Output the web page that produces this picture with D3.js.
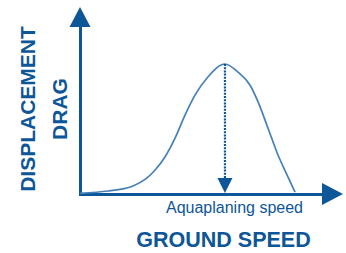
<!DOCTYPE html>
<html><head><meta charset="utf-8">
<script src="https://cdn.jsdelivr.net/npm/d3@7"></script>
<style>body{margin:0;background:#fff}svg{display:block}</style>
</head><body>
<script>
const speed = [0, 11.7, 16.7, 22.1, 27.1, 31.3, 35.4, 39.6, 43.8, 47.9, 53.3, 60.4, 65.8, 70.8, 74.2, 78.3, 82.5, 86.3, 89.6];
const drag  = [0.5, 2.3, 3.5, 6.2, 11.2, 18.5, 28.5, 43, 60.8, 76, 90, 100, 93.8, 83.8, 70.8, 50.8, 30, 14.6, 1.5];
const peakSpeed = 60.4;
const yTitle = ["DISPLACEMENT", "DRAG"];
const xTitle = "GROUND SPEED";
const markerLabel = "Aquaplaning speed";

const W = 346, H = 253, C = "#0d5697", CL = "#4580b8";
const svg = d3.select("body").append("svg").attr("width", W).attr("height", H);
const x = d3.scaleLinear().domain([0, 100]).range([80, 320]);
const y = d3.scaleLinear().domain([0, 100]).range([194, 64]);

// axes (no ticks) via d3 axis generators
const xAxisG = svg.append("g").attr("transform", `translate(0,${y(0)})`)
  .call(d3.axisBottom(d3.scaleLinear().domain([0, 1]).range([x(0) - 1.5, 325])).tickValues([]).tickSizeOuter(0));
const yAxisG = svg.append("g").attr("transform", `translate(${x(0)},0)`)
  .call(d3.axisLeft(d3.scaleLinear().domain([0, 1]).range([y(0) + 1.5, 24])).tickValues([]).tickSizeOuter(0));
[xAxisG, yAxisG].forEach(g => g.select(".domain").attr("stroke", C).attr("stroke-width", 3));

// arrowheads
svg.append("path").attr("fill", C)
  .attr("d", `M${x(0) - 10.5},${27} L${x(0)},${7} L${x(0) + 10.5},${27} Z`);
svg.append("path").attr("fill", C)
  .attr("d", `M322,${y(0) - 11} L343,${y(0)} L322,${y(0) + 11} Z`);

// curve
const pts = speed.map((s, i) => [s, drag[i]]);
svg.append("path").datum(pts)
  .attr("fill", "none").attr("stroke", CL).attr("stroke-width", 1.7)
  .attr("d", d3.line().x(d => x(d[0])).y(d => y(d[1])).curve(d3.curveMonotoneX));

// dotted marker line
const px = x(peakSpeed);
svg.append("line").attr("x1", px).attr("x2", px).attr("y1", y(100)).attr("y2", y(0) - 16)
  .attr("stroke", C).attr("stroke-width", 2.2).attr("stroke-dasharray", "2,1.2");
svg.append("path").attr("fill", C)
  .attr("d", `M${px - 7.5},${y(0) - 16} L${px + 7.5},${y(0) - 16} L${px},${y(0) - 1} Z`);

// labels
const font = "'Liberation Sans', Arial, sans-serif";
svg.append("text").attr("x", 234.5).attr("y", 213).attr("text-anchor", "middle")
  .attr("font-family", font).attr("font-size", 16).attr("fill", C).text(markerLabel);
svg.append("text").attr("x", 223.5).attr("y", 247).attr("text-anchor", "middle")
  .attr("font-family", font).attr("font-weight", "bold").attr("font-size", 21.5).attr("fill", C).text(xTitle);
svg.append("text").attr("transform", "translate(35,109) rotate(-90)").attr("text-anchor", "middle")
  .attr("font-family", font).attr("font-weight", "bold").attr("font-size", 21).attr("fill", C).text(yTitle[0]);
svg.append("text").attr("transform", "translate(67,109) rotate(-90)").attr("text-anchor", "middle")
  .attr("font-family", font).attr("font-weight", "bold").attr("font-size", 21).attr("fill", C).text(yTitle[1]);
</script>
</body></html>
